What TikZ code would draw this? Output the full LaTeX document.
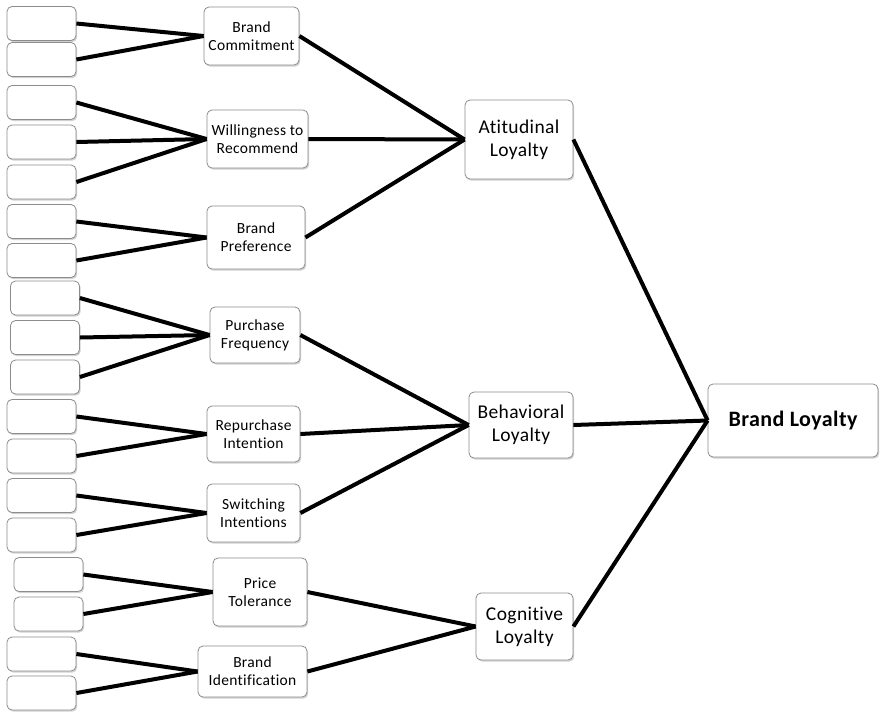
\documentclass[tikz,border=0pt]{standalone}
\usepackage{fontspec}
\setmainfont{Carlito}[Ligatures=NoCommon, LetterSpace=2]
\usetikzlibrary{shadows}

\tikzset{
  box/.style={draw=black!45, line width=0.8pt, fill=white, rounded corners=5pt,
    inner sep=0pt, align=center,
    drop shadow={shadow xshift=1.2pt, shadow yshift=-1.6pt, fill=black!40, opacity=0.45}},
  item/.style={box, minimum width=69pt, minimum height=34pt},
  factor/.style={box, font=\fontsize{15.5}{18}\selectfont},
  dimension/.style={box, font=\fontsize{19.5}{23}\selectfont},
  overall/.style={box, font=\fontsize{22}{26}\selectfont\bfseries},
  link/.style={line width=4pt},
}

\begin{document}
\begin{tikzpicture}[x=1pt, y=-1pt]
  \useasboundingbox (0,0) rectangle (880,713);

  % ITEMS (empty boxes on the left)
  \foreach \n/\x/\y in {1/41.5/23.5, 2/41.5/59.5, 3/41.5/102.5, 4/41.5/142,
      5/41.5/182, 6/41.5/221.5, 7/41.5/260.5, 8/45/298, 9/45/337.5, 10/45/377,
      11/41.5/416.5, 12/41.5/456, 13/41.5/495.5, 14/41.5/535, 15/48.5/574.5,
      16/48.5/614, 17/41.5/654, 18/41.5/693}
    \node[item] (i\n) at (\x,\y) {};

  % FACTORS
  \node[factor, minimum width=95pt,  minimum height=58pt] (bc) at (251.5,36)  {Brand\\Commitment};
  \node[factor, minimum width=101pt, minimum height=58pt] (wr) at (257.5,139) {Willingness to\\Recommend};
  \node[factor, minimum width=98pt,  minimum height=63pt] (bp) at (256,237.5) {Brand\\Preference};
  \node[factor, minimum width=90pt,  minimum height=56pt] (pf) at (255,335)   {Purchase\\Frequency};
  \node[factor, minimum width=93pt,  minimum height=56pt] (ri) at (253.5,434) {Repurchase\\Intention};
  \node[factor, minimum width=93pt,  minimum height=58pt] (si) at (253.5,513) {Switching\\Intentions};
  \node[factor, minimum width=94pt,  minimum height=68pt] (pt) at (260,592)   {Price\\Tolerance};
  \node[factor, minimum width=109pt, minimum height=51pt] (bi) at (252.5,671.5) {Brand\\Identification};

  % DIMENSIONS
  \node[dimension, minimum width=108pt, minimum height=79pt] (al) at (519,139.5) {Atitudinal\\Loyalty};
  \node[dimension, minimum width=104pt, minimum height=66pt] (bl) at (521,425)   {Behavioral\\Loyalty};
  \node[dimension, minimum width=97pt,  minimum height=67pt] (cl) at (524.5,626.5) {Cognitive\\Loyalty};

  % OVERALL
  \node[overall, minimum width=170pt, minimum height=73pt] (brl) at (793,420.5) {Brand Loyalty};

  % LINKS items -> factors
  \foreach \i/\f in {1/bc, 2/bc, 3/wr, 4/wr, 5/wr, 6/bp, 7/bp, 8/pf, 9/pf, 10/pf,
      11/ri, 12/ri, 13/si, 14/si, 15/pt, 16/pt, 17/bi, 18/bi}
    \draw[link] (i\i.east) -- (\f.west);

  % LINKS factors -> dimensions
  \foreach \f/\d in {bc/al, wr/al, bp/al, pf/bl, ri/bl, si/bl, pt/cl, bi/cl}
    \draw[link] (\f.east) -- (\d.west);

  % LINKS dimensions -> overall
  \foreach \d in {al, bl, cl}
    \draw[link] (\d.east) -- (brl.west);
\end{tikzpicture}
\end{document}
